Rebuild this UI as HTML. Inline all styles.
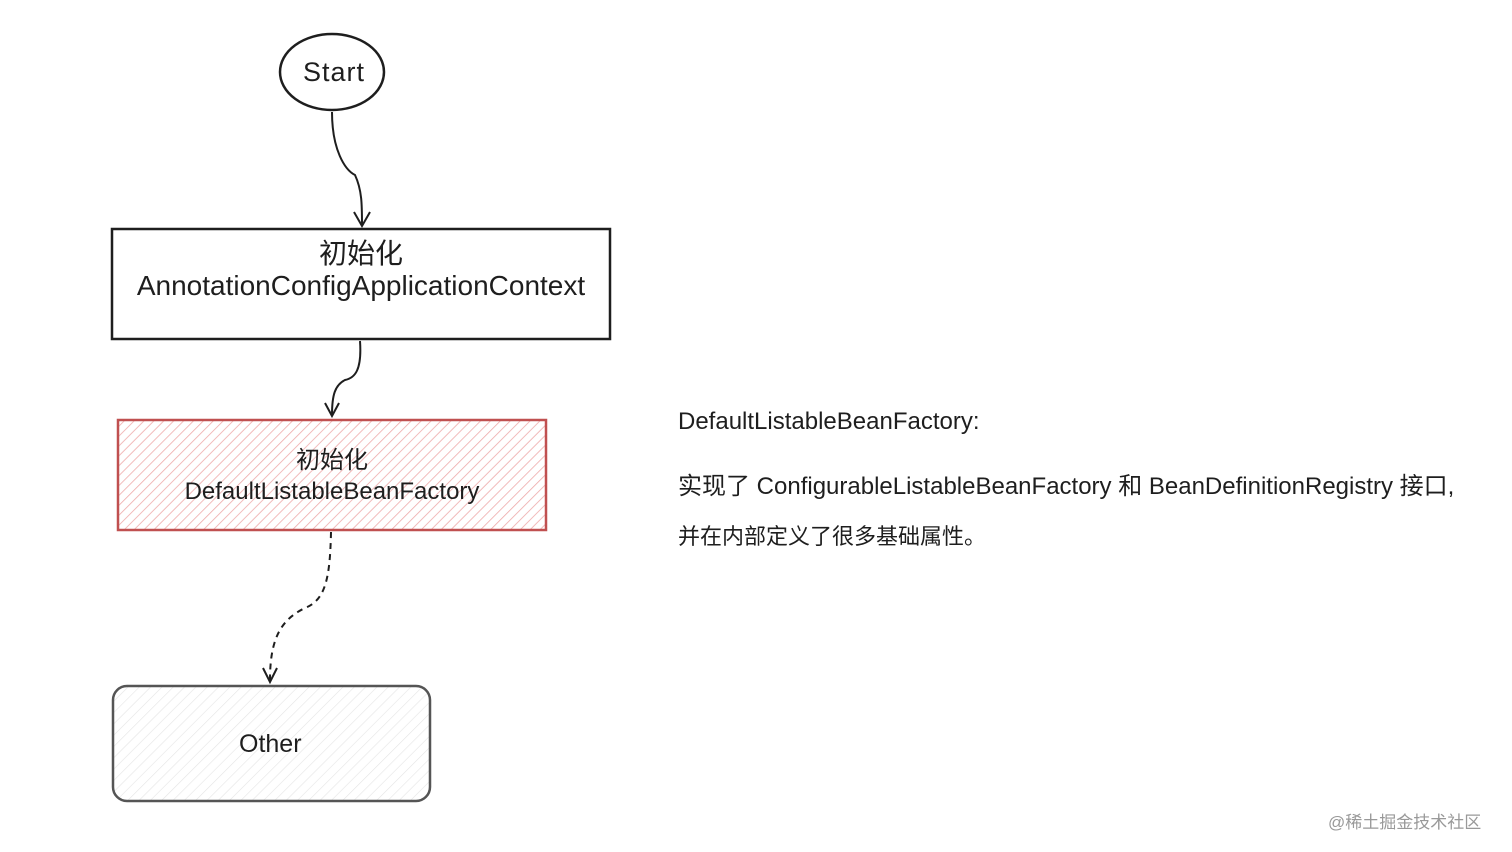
<!DOCTYPE html>
<html><head><meta charset="utf-8"><style>
html,body{margin:0;padding:0;background:#fff;}
body{width:1512px;height:852px;overflow:hidden;position:relative;font-family:"Liberation Sans","Noto Sans CJK SC",sans-serif;}
.t{position:absolute;color:#1e1e1e;white-space:nowrap;}
</style></head><body>
<svg width="1512" height="852" style="position:absolute;left:0;top:0">
<defs>
<pattern id="h1" width="7" height="7" patternUnits="userSpaceOnUse" patternTransform="rotate(45)">
<line x1="0" y1="0" x2="0" y2="7" stroke="#eeaaaa" stroke-width="1.6"/></pattern>
<pattern id="h2" width="8" height="8" patternUnits="userSpaceOnUse" patternTransform="rotate(45)">
<line x1="0" y1="0" x2="0" y2="8" stroke="#e4e4e4" stroke-width="1.2"/></pattern>
</defs>
<ellipse cx="332" cy="72" rx="52" ry="38" fill="none" stroke="#1e1e1e" stroke-width="2.5"/>
<path d="M332 112 C332 150,345 170,355 175 C362 190,362 205,362 225" fill="none" stroke="#1e1e1e" stroke-width="2"/>
<path d="M354 212 L362 226 L370 212" fill="none" stroke="#1e1e1e" stroke-width="2"/>
<rect x="112" y="229" width="498" height="110" fill="none" stroke="#1e1e1e" stroke-width="2.5"/>
<path d="M360 341 C362 370,355 378,345 380 C335 385,332 395,332 415" fill="none" stroke="#1e1e1e" stroke-width="2"/>
<path d="M325 403 L332 416 L339 403" fill="none" stroke="#1e1e1e" stroke-width="2"/>
<rect x="118" y="420" width="428" height="110" fill="url(#h1)" stroke="#c05050" stroke-width="2.5"/>
<path d="M331 532 C330 580,325 600,305 608 C280 620,270 640,270 680" fill="none" stroke="#1e1e1e" stroke-width="2" stroke-dasharray="6 5"/>
<path d="M263 668 L270 682 L277 668" fill="none" stroke="#1e1e1e" stroke-width="2"/>
<rect x="113" y="686" width="317" height="115" rx="14" fill="url(#h2)" stroke="#555" stroke-width="2.5"/>
</svg>
<div class="t" style="left:303px;top:57px;font-size:27px;letter-spacing:1px">Start</div>
<div class="t" style="left:112px;width:498px;text-align:center;top:238px;font-size:28px;line-height:32px">初始化<br>AnnotationConfigApplicationContext</div>
<div class="t" style="left:118px;width:428px;text-align:center;top:445px;font-size:24px;line-height:31px">初始化<br>DefaultListableBeanFactory</div>
<div class="t" style="left:239px;top:730px;font-size:25px">Other</div>
<div class="t" style="left:678px;top:408px;font-size:24px">DefaultListableBeanFactory:</div>
<div class="t" style="left:678px;top:466px;font-size:24px">实现了 ConfigurableListableBeanFactory 和 BeanDefinitionRegistry 接口,</div>
<div class="t" style="left:678px;top:519px;font-size:22px">并在内部定义了很多基础属性。</div>
<div class="t" style="left:1328px;top:808px;font-size:17px;color:#999">@稀土掘金技术社区</div>
</body></html>
